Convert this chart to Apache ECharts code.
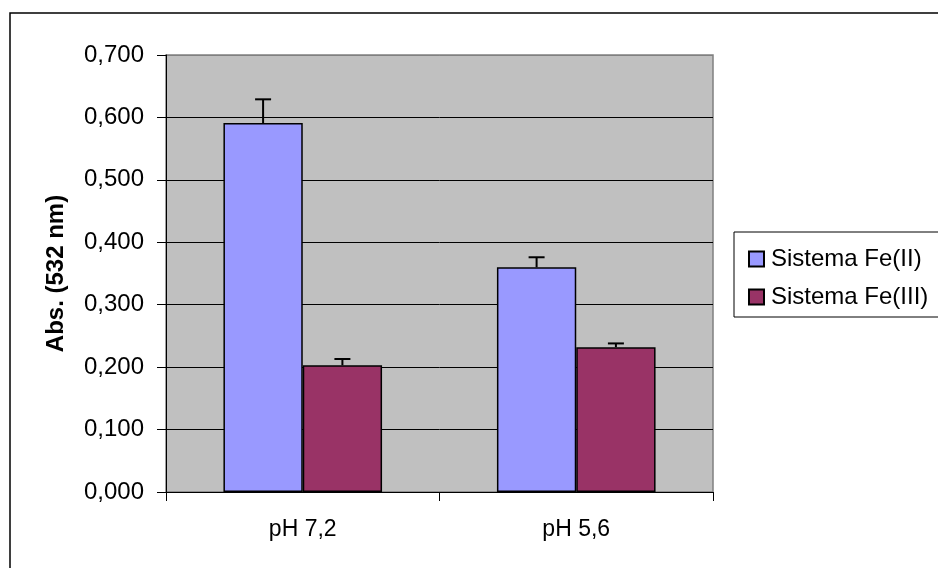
<!DOCTYPE html>
<html>
<head>
<meta charset="utf-8">
<script src="https://cdn.jsdelivr.net/npm/echarts@6/dist/echarts.min.js"></script>
<style>
  html, body { margin: 0; padding: 0; background: #fff; }
  #main { width: 938px; height: 568px; }
</style>
</head>
<body>
<div id="main"></div>
<script>
var categories = ['pH 7,2', 'pH 5,6'];
var seriesNames = ['Sistema Fe(II)', 'Sistema Fe(III)'];
var feII = [0.591, 0.360];
var feIII = [0.203, 0.232];
var feIIErr = [0.038, 0.016];
var feIIIErr = [0.010, 0.006];
var yTicks = [0, 0.1, 0.2, 0.3, 0.4, 0.5, 0.6, 0.7];

var myChart = echarts.init(document.getElementById('main'));
var BAR_PCT = 0.29;

// error bar drawn above each bar, side = -1 for first series, +1 for second
function errorSeries(values, errs, side) {
    var data = values.map(function (v, i) { return [i, v, v + errs[i]]; });
    return {
        type: 'custom',
        silent: true,
        z: 5,
        data: data,
        renderItem: function (params, api) {
            var band = api.size([1, 0])[0];
            var bw = band * BAR_PCT;
            var base = api.coord([api.value(0), api.value(1)]);
            var top = api.coord([api.value(0), api.value(2)]);
            var x = base[0] + side * bw / 2;
            var style = { stroke: '#000', lineWidth: 2 };
            return {
                type: 'group',
                children: [
                    { type: 'line', shape: { x1: x, y1: base[1], x2: x, y2: top[1] }, style: style },
                    { type: 'line', shape: { x1: x - 8, y1: top[1], x2: x + 8, y2: top[1] }, style: style }
                ]
            };
        }
    };
}

// grid lines black, the top one (0,700) grey like the plot frame
var splitColors = yTicks.map(function (t, i) { return i === yTicks.length - 1 ? '#808080' : '#000'; });

var option = {
    animation: false,
    textStyle: { fontFamily: 'Liberation Sans, Arial, sans-serif' },
    grid: {
        left: 166, right: 225, top: 55, bottom: 76,
        show: true,
        backgroundColor: '#c0c0c0',
        borderColor: '#808080',
        borderWidth: 1.5
    },
    legend: {
        orient: 'vertical',
        left: 743, top: 242,
        itemWidth: 15, itemHeight: 15,
        itemGap: 14,
        icon: 'rect',
        data: seriesNames,
        textStyle: { fontSize: 24, lineHeight: 24, color: '#000', padding: [0, 0, 0, 2] }
    },
    xAxis: {
        type: 'category',
        data: categories,
        axisLine: { lineStyle: { color: '#000', width: 1 } },
        axisTick: { show: true, length: 9, lineStyle: { color: '#000' } },
        axisLabel: { fontSize: 23, color: '#000', margin: 26 },
        splitLine: { show: false }
    },
    yAxis: {
        type: 'value',
        min: 0, max: 0.7, interval: 0.1,
        name: 'Abs. (532 nm)',
        nameLocation: 'middle',
        nameGap: 98,
        nameTextStyle: { fontSize: 24, fontWeight: 'bold', color: '#000' },
        axisLine: { show: true, lineStyle: { color: '#000', width: 1 } },
        axisTick: { show: true, length: 9, lineStyle: { color: '#000' } },
        axisLabel: {
            fontSize: 24, color: '#000', margin: 22,
            formatter: function (v) {
                var t = yTicks.reduce(function (a, b) { return Math.abs(b - v) < Math.abs(a - v) ? b : a; });
                return t.toFixed(3).replace('.', ',');
            }
        },
        splitLine: { show: true, lineStyle: { color: splitColors, width: 1 } }
    },
    series: [
        {
            name: seriesNames[0],
            type: 'bar',
            data: feII,
            barWidth: (BAR_PCT * 100) + '%',
            barGap: '0%',
            itemStyle: { color: '#9999ff', borderColor: '#000', borderWidth: 1.5 }
        },
        {
            name: seriesNames[1],
            type: 'bar',
            data: feIII,
            barWidth: (BAR_PCT * 100) + '%',
            barGap: '0%',
            itemStyle: { color: '#993366', borderColor: '#000', borderWidth: 1.5 }
        },
        errorSeries(feII, feIIErr, -1),
        errorSeries(feIII, feIIIErr, 1)
    ],
    graphic: [
        {
            type: 'rect', z: -1,
            shape: { x: 10, y: 13, width: 960, height: 600 },
            style: { fill: 'none', stroke: '#000', lineWidth: 1.5 }
        },
        {
            type: 'rect',
            shape: { x: 734, y: 232, width: 220, height: 85 },
            style: { fill: 'none', stroke: '#000', lineWidth: 1 }
        }
    ]
};

myChart.setOption(option);
</script>
</body>
</html>
